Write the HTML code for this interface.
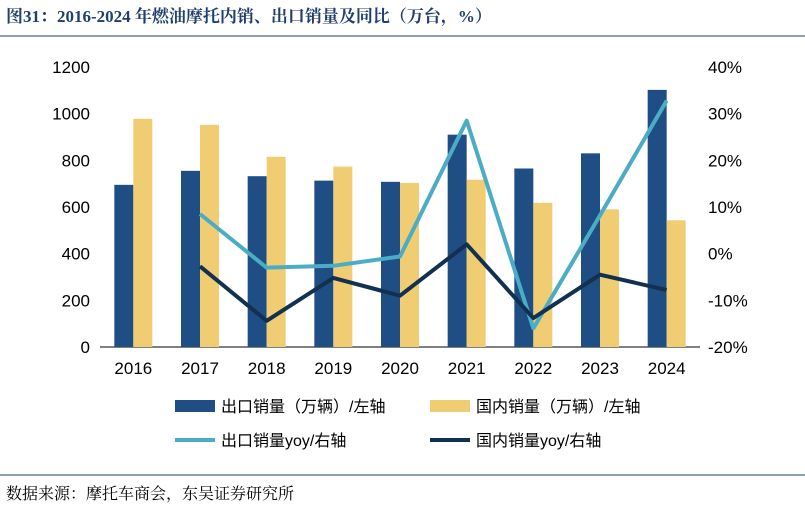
<!DOCTYPE html>
<html><head><meta charset="utf-8"><style>
body{margin:0;background:#fff;width:805px;height:507px;overflow:hidden;font-family:"Liberation Sans","Noto Sans CJK SC",sans-serif}
svg text{font-family:"Liberation Sans","Noto Sans CJK SC",sans-serif}
svg text.serif{font-family:"Liberation Serif","Noto Serif CJK SC",serif}
</style></head><body>
<svg id="c" width="805" height="507" xmlns="http://www.w3.org/2000/svg">
<text class="serif" x="6" y="22" font-size="17" font-weight="bold" fill="#1f3f6e">图31：2016-2024 年燃油摩托内销、出口销量及同比（万台，%）</text>
<line x1="0" y1="36" x2="805" y2="36" stroke="#1f3f6e" stroke-width="1"/>
<line x1="0" y1="475" x2="805" y2="475" stroke="#1f3f6e" stroke-width="1"/>
<text class="serif" x="6" y="499" font-size="16" fill="#000">数据来源：摩托车商会，东吴证券研究所</text>
<g id="plot"></g>
</svg>
<script>
const categories=["2016","2017","2018","2019","2020","2021","2022","2023","2024"];
const exportVol=[695,755,732,713,708,910,765,830,1102];
const domesticVol=[978,952,815,773,703,717,618,590,543];
const exportYoy=[null,8.5,-3.0,-2.6,-0.6,28.5,-16.0,8.2,32.8];
const domesticYoy=[null,-2.7,-14.4,-5.2,-9.0,2.0,-13.8,-4.5,-7.8];
const leftTicks=[0,200,400,600,800,1000,1200];
const rightTicks=[-20,-10,0,10,20,30,40];
const NS="http://www.w3.org/2000/svg";
const g=document.getElementById('plot');
const X0=100,X1=700,Y0=347,Y1=67;
const slot=(X1-X0)/categories.length;
const xc=i=>X0+slot*(i+0.5);
const yL=v=>Y0-(v/1200)*(Y0-Y1);
const yR=v=>Y0-((v+20)/60)*(Y0-Y1);
function el(t,a){const e=document.createElementNS(NS,t);for(const k in a)e.setAttribute(k,a[k]);g.appendChild(e);return e;}
let ax=el('line',{x1:X0,y1:Y0,x2:X1,y2:Y0,stroke:'#000'});


leftTicks.forEach(v=>{const t=el('text',{x:X0-10,y:yL(v)+6,'font-size':17,'text-anchor':'end'});t.textContent=v;

});
rightTicks.forEach(v=>{const t=el('text',{x:X1+8,y:yR(v)+6,'font-size':17});t.textContent=v+'%';

});
categories.forEach((c,i)=>{
const b=el('rect',{x:xc(i)-19,y:yL(exportVol[i]),width:19,height:Y0-yL(exportVol[i]),fill:'#1f4e85'});


const d=el('rect',{x:xc(i),y:yL(domesticVol[i]),width:19,height:Y0-yL(domesticVol[i]),fill:'#f0cd72'});


const t=el('text',{x:xc(i),y:Y0+27,'font-size':17,'text-anchor':'middle'});t.textContent=c;


});
function line(arr,col,name){let p=[];arr.forEach((v,i)=>{if(v!==null)p.push(xc(i)+','+yR(v));});
const l=el('polyline',{points:p.join(' '),fill:'none',stroke:col,'stroke-width':4,'stroke-linejoin':'round'});

}
line(exportYoy,'#4bacc6','line-export-yoy');
line(domesticYoy,'#12304f','line-domestic-yoy');
const lg=[[175,406,'rect','#1f4e85','出口销量（万辆）/左轴'],[430,406,'rect','#f0cd72','国内销量（万辆）/左轴'],[175,440,'line','#4bacc6','出口销量yoy/右轴'],[430,440,'line','#12304f','国内销量yoy/右轴']];
lg.forEach(a=>{
let m;if(a[2]=='rect')m=el('rect',{x:a[0],y:a[1]-6,width:40,height:12,fill:a[3]});
else m=el('line',{x1:a[0],y1:a[1],x2:a[0]+40,y2:a[1],stroke:a[3],'stroke-width':4});


const t=el('text',{x:a[0]+46,y:a[1]+6,'font-size':16});t.textContent=a[4];


});
</script>
</body></html>
